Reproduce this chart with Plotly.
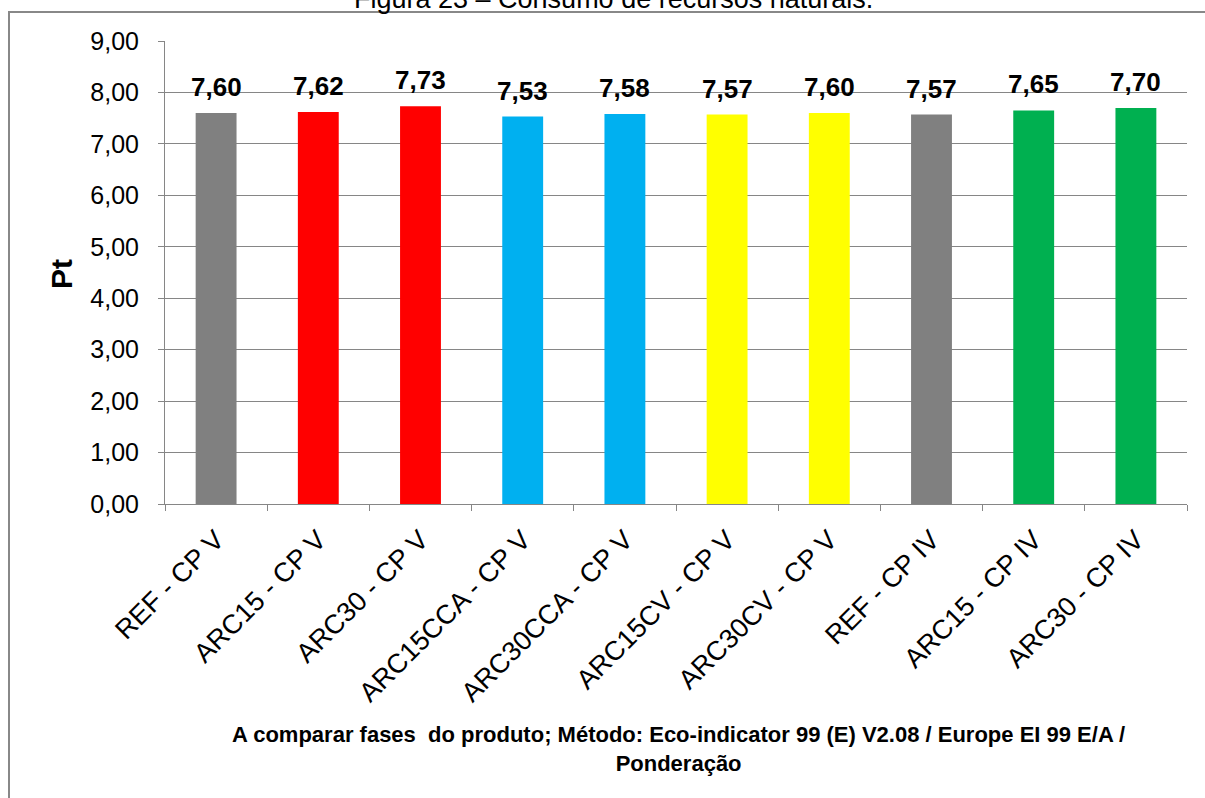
import plotly.graph_objects as go

categories = ["REF - CP V", "ARC15 - CP V", "ARC30 - CP V", "ARC15CCA - CP V",
              "ARC30CCA - CP V", "ARC15CV - CP V", "ARC30CV - CP V",
              "REF - CP IV", "ARC15 - CP IV", "ARC30 - CP IV"]
values = [7.60, 7.62, 7.73, 7.53, 7.58, 7.57, 7.60, 7.57, 7.65, 7.70]
colors = ["#808080", "#FF0000", "#FF0000", "#00B0F0", "#00B0F0",
          "#FFFF00", "#FFFF00", "#808080", "#00B050", "#00B050"]
y_ticks = [0, 1, 2, 3, 4, 5, 6, 7, 8, 9]

FONT = "Liberation Sans, Arial, sans-serif"
W, H = 1205, 798
L, R, T, B = 165, 18, 41, 294
pw, ph = W - L - R, H - T - B

def px_x(p):
    return (p - L) / pw

def px_y(p):
    return (H - B - p) / ph

fig = go.Figure(go.Bar(
    x=categories, y=values, marker=dict(color=colors, line=dict(width=0)),
    width=0.4, hoverinfo="x+y",
))

for c, v in zip(categories, values):
    fig.add_annotation(x=c, y=v, text=f"<b>{v:.2f}</b>".replace(".", ","),
                       showarrow=False, yanchor="bottom", yshift=9,
                       font=dict(size=26, family=FONT, color="black"))

fig.update_layout(
    width=W, height=H, margin=dict(l=L, r=R, t=T, b=B, pad=0),
    paper_bgcolor="white", plot_bgcolor="white",
    separators=",.", showlegend=False,
    font=dict(family=FONT, color="black"),
    xaxis=dict(tickangle=-45, tickfont=dict(size=27, family=FONT),
               ticklabelstandoff=8,
               showline=True, linecolor="#868686", linewidth=1,
               ticks="outside", ticklen=6, tickcolor="#868686",
               tickson="boundaries", showgrid=False),
    yaxis=dict(range=[0, 9], tickvals=y_ticks, tickformat=".2f",
               tickfont=dict(size=25, family=FONT), ticklabelstandoff=14,
               showline=True, linecolor="#868686", linewidth=1,
               ticks="outside", ticklen=6, tickcolor="#868686",
               showgrid=True, gridcolor="#868686", gridwidth=1,
               zeroline=False),
)

fig.add_annotation(text="<b>Pt</b>", xref="paper", yref="paper",
                   x=px_x(61), y=px_y(274), xanchor="center", yanchor="middle",
                   textangle=-90, showarrow=False,
                   font=dict(size=30, family=FONT, color="black"))
fig.add_annotation(text="<b>A comparar fases  do produto; Método: Eco-indicator 99 (E) V2.08 / Europe EI 99 E/A /<br>Ponderação</b>",
                   xref="paper", yref="paper", x=px_x(678), y=px_y(749),
                   xanchor="center", yanchor="middle",
                   showarrow=False, align="center",
                   font=dict(size=22, family=FONT, color="black"))
fig.add_annotation(text="Figura 23 – Consumo de recursos naturais.",
                   xref="paper", yref="paper", x=px_x(613), y=px_y(16),
                   xanchor="center", yanchor="bottom", showarrow=False,
                   font=dict(size=27, family=FONT, color="black"))
fig.add_shape(type="rect", xref="paper", yref="paper",
              x0=px_x(9), x1=px_x(1215), y0=px_y(1000), y1=px_y(12),
              line=dict(color="#888888", width=2), fillcolor="rgba(0,0,0,0)",
              layer="below")

fig.write_html("out.html")
